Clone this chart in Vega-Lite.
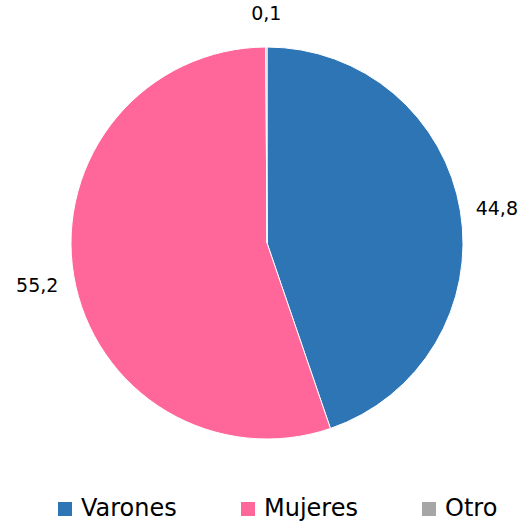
{
  "$schema": "https://vega.github.io/schema/vega-lite/v6.json",
  "width": 534,
  "height": 486,
  "autosize": {"type": "none"},
  "padding": {"top": 0, "left": 0, "right": 0, "bottom": 36},
  "background": "white",
  "config": {"view": {"stroke": null}, "font": "DejaVu Sans"},
  "data": {"values": [
    {"sexo": "Varones", "valor": 44.8, "etiqueta": "44,8", "orden": 1},
    {"sexo": "Mujeres", "valor": 55.2, "etiqueta": "55,2", "orden": 2},
    {"sexo": "Otro", "valor": 0.1, "etiqueta": "0,1", "orden": 3}
  ]},
  "encoding": {
    "theta": {"field": "valor", "type": "quantitative", "stack": true},
    "order": {"field": "orden", "type": "quantitative"}
  },
  "layer": [
    {
      "mark": {"type": "arc", "outerRadius": 196, "stroke": "white", "strokeWidth": 1},
      "encoding": {
        "color": {
          "field": "sexo", "type": "nominal",
          "scale": {"domain": ["Varones", "Mujeres", "Otro"], "range": ["#2E75B6", "#FF6699", "#A6A6A6"]},
          "legend": {
            "title": null, "orient": "none", "direction": "horizontal",
            "legendX": 53, "legendY": 497,
            "symbolType": "square", "symbolSize": 196, "symbolStrokeWidth": 0,
            "labelFontSize": 24, "labelFont": "DejaVu Sans", "labelColor": "#000000",
            "labelOffset": 4, "columnPadding": 59, "labelLimit": 300
          }
        }
      }
    },
    {
      "mark": {"type": "text", "radius": 233, "dy": 4, "fontSize": 19, "font": "DejaVu Sans", "color": "#000000"},
      "encoding": {"text": {"field": "etiqueta", "type": "nominal"}}
    }
  ]
}
